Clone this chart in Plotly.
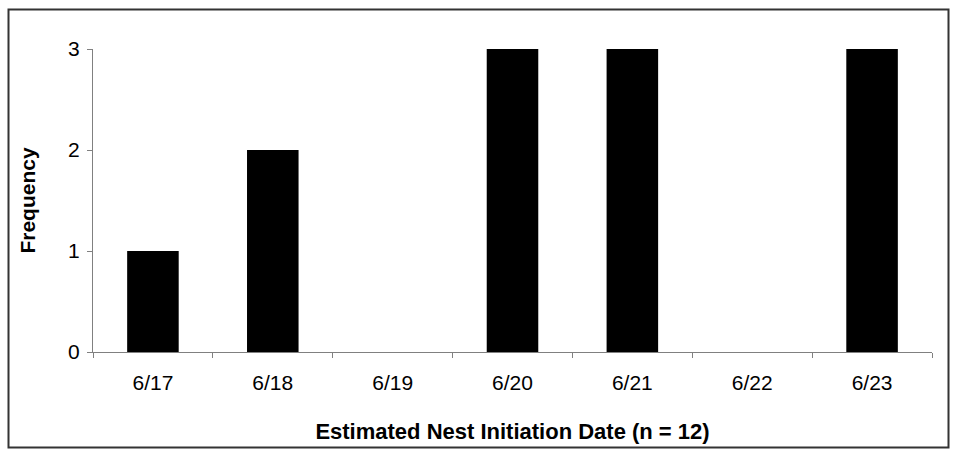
import plotly.graph_objects as go

dates = ["6/17", "6/18", "6/19", "6/20", "6/21", "6/22", "6/23"]
frequency = [1, 2, 0, 3, 3, 0, 3]
y_ticks = [0, 1, 2, 3]

W, H = 957, 456
L, R, T, B = 93, 25, 49, 104
pw, ph = W - L - R, H - T - B

fig = go.Figure(go.Bar(x=dates, y=frequency, marker=dict(color="black", line=dict(width=0)), width=0.43))

def px2paper_x(p):
    return (p - L) / pw

def px2paper_y(p):
    return (H - B - p) / ph

fig.add_shape(type="rect", xref="paper", yref="paper",
              x0=px2paper_x(8.5), x1=px2paper_x(948.5), y0=px2paper_y(447.5), y1=px2paper_y(9.5),
              line=dict(color="#333", width=2), fillcolor="rgba(0,0,0,0)")

fig.update_layout(
    width=W, height=H, margin=dict(l=L, r=R, t=T, b=B),
    plot_bgcolor="white", paper_bgcolor="white",
    font=dict(family="Liberation Sans, Arial, sans-serif", size=21, color="black"),
    showlegend=False,
    xaxis=dict(type="category", showline=True, linecolor="#808080", linewidth=1,
               ticks="outside", tickson="boundaries", ticklen=5, tickcolor="#808080",
               showgrid=False, tickfont=dict(size=21), ticklabelstandoff=12,
               title=dict(text="<b>Estimated Nest Initiation Date (n = 12)</b>", font=dict(size=22), standoff=30)),
    yaxis=dict(range=[0, 3], tickvals=y_ticks, showline=True, linecolor="#808080", linewidth=1,
               ticks="outside", ticklen=5, tickcolor="#808080", showgrid=False, zeroline=False,
               tickfont=dict(size=21), ticklabelstandoff=3,
               title=dict(text="<b>Frequency</b>", font=dict(size=21), standoff=26)),
)

fig.write_html("out.html", config={"displayModeBar": False},
               post_script="document.body.style.margin='0';")
